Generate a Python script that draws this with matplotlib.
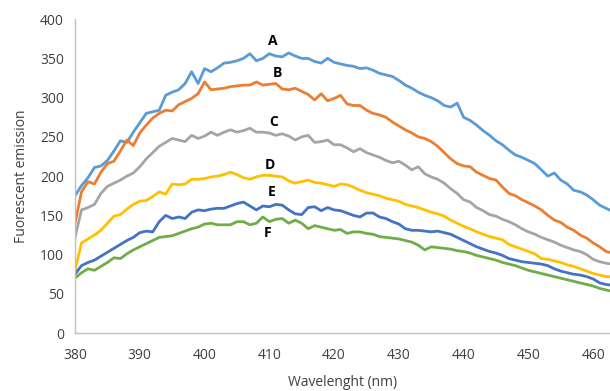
import matplotlib
matplotlib.use("Agg")
import matplotlib.pyplot as plt
import numpy as np

wavelength = np.arange(380, 464)

A = [175, 188, 198, 211, 213, 220, 232, 245, 243, 256, 268, 280, 282, 284, 303, 307, 310, 318, 333, 318,
     337, 333, 338, 344, 345, 347, 350, 356, 347, 350, 356, 353, 352, 357, 353, 350, 350, 346, 344, 350,
     345, 343, 341, 340, 337, 338, 335, 331, 329, 327, 322, 316, 312, 307, 303, 300, 296, 290, 288, 293,
     275, 271, 265, 258, 252, 245, 240, 233, 227, 224, 220, 216, 208, 200, 204, 195, 190, 182, 180, 176,
     170, 163, 159, 155]
B = [140, 180, 193, 190, 205, 216, 219, 232, 246, 239, 255, 265, 274, 280, 284, 283, 291, 295, 299, 305,
     320, 310, 311, 312, 314, 315, 316, 316, 320, 316, 317, 318, 311, 310, 312, 308, 304, 297, 305, 296,
     299, 303, 292, 290, 290, 284, 280, 278, 275, 269, 264, 259, 255, 250, 248, 244, 238, 230, 222, 216,
     213, 212, 205, 201, 197, 195, 186, 178, 175, 170, 166, 162, 157, 150, 144, 141, 135, 131, 125, 121,
     115, 110, 104, 102]
C = [122, 157, 160, 164, 178, 187, 191, 195, 200, 204, 212, 222, 230, 238, 243, 248, 246, 244, 252, 248,
     251, 256, 252, 256, 259, 256, 258, 261, 256, 256, 255, 252, 254, 251, 246, 250, 252, 243, 244, 246,
     240, 240, 236, 231, 235, 230, 227, 224, 220, 217, 219, 214, 208, 212, 203, 199, 196, 191, 184, 178,
     170, 167, 160, 156, 151, 149, 145, 142, 138, 133, 129, 126, 122, 119, 116, 112, 109, 106, 104, 100,
     94, 91, 89, 88]
D = [80, 115, 120, 125, 131, 140, 149, 151, 158, 164, 168, 169, 174, 180, 177, 190, 189, 190, 196, 196,
     197, 199, 200, 202, 205, 202, 198, 196, 199, 201, 201, 200, 199, 194, 191, 193, 195, 192, 191, 189,
     187, 190, 189, 186, 182, 179, 177, 175, 172, 170, 168, 164, 162, 160, 157, 154, 152, 149, 144, 140,
     136, 133, 129, 126, 123, 121, 119, 113, 110, 107, 104, 101, 95, 94, 92, 90, 87, 85, 82, 79,
     76, 74, 72, 72]
E = [75, 86, 90, 93, 98, 103, 108, 113, 118, 122, 128, 130, 129, 142, 150, 146, 148, 146, 154, 157,
     156, 158, 159, 159, 162, 165, 167, 162, 157, 162, 161, 164, 163, 157, 152, 151, 160, 161, 156, 160,
     157, 156, 153, 150, 148, 153, 153, 148, 146, 142, 139, 133, 131, 131, 130, 129, 130, 128, 126, 122,
     118, 114, 110, 107, 104, 102, 99, 95, 93, 91, 90, 89, 88, 86, 82, 79, 77, 75, 74, 72,
     69, 64, 62, 61]
F = [70, 77, 82, 80, 85, 90, 96, 95, 101, 106, 110, 114, 118, 122, 123, 124, 127, 130, 133, 135,
     139, 140, 138, 138, 138, 142, 142, 138, 140, 148, 142, 145, 146, 140, 144, 140, 133, 137, 135, 133,
     131, 132, 127, 129, 129, 127, 126, 123, 122, 121, 120, 118, 116, 112, 106, 110, 109, 108, 107, 105,
     104, 102, 99, 97, 95, 93, 90, 88, 86, 83, 80, 78, 76, 74, 72, 70, 68, 66, 64, 62,
     60, 57, 55, 53]

names = ["A", "B", "C", "D", "E", "F"]
colors = ["#5B9BD5", "#ED7D31", "#A5A5A5", "#FFC000", "#4472C4", "#70AD47"]
label_pos = [(410.6, 372), (411.2, 331), (410.6, 269), (410.1, 214), (410.4, 180), (409.8, 127)]

plt.rcParams['font.family'] = ['Open Sans', 'DejaVu Sans']

fig = plt.figure(figsize=(6.10, 3.91), dpi=100)
ax = fig.add_axes([0.123, 0.148, 0.877, 0.803])

for ys, c in zip([A, B, C, D, E, F], colors):
    ax.plot(wavelength, ys, color=c, lw=2.0, solid_joinstyle='round')

for n, (x, y) in zip(names, label_pos):
    ax.text(x, y, n, ha='center', va='center', fontsize=10, fontweight='bold', color='black')

ax.set_xlim(380, 462.6)
ax.set_ylim(0, 400)
ax.set_xticks(range(380, 461, 10))
ax.set_yticks(range(0, 401, 50))
ax.tick_params(length=0, labelsize=10, colors='#404040')
ax.tick_params(axis='x', pad=11)
ax.tick_params(axis='y', pad=8)
for s in ['top', 'right']:
    ax.spines[s].set_visible(False)
for s in ['left', 'bottom']:
    ax.spines[s].set_color('#BFBFBF')
    ax.spines[s].set_linewidth(1)

ax.set_xlabel('Wavelenght (nm)', fontsize=10, color='#404040', labelpad=8)
ax.set_ylabel('Fuorescent emission', fontsize=10, color='#404040', labelpad=8)

fig.savefig('out.png', dpi=100)
